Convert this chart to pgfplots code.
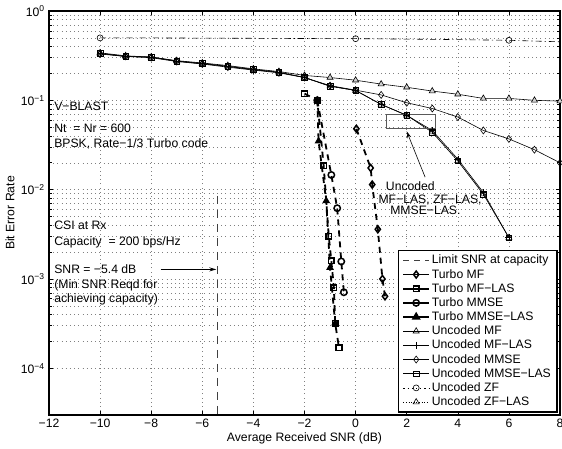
\documentclass[border=0pt]{standalone}
\usepackage{pgfplots}
\pgfplotsset{compat=1.18}
\usepackage{fontspec}
\setmainfont{Liberation Sans}
\usetikzlibrary{arrows.meta}

\newcommand\fs{\fontsize{12.2}{14}\selectfont}

\begin{document}
\fs
\begin{tikzpicture}
\begin{axis}[
  scale only axis, width=511pt, height=404pt,
  at={(0,0)}, anchor=south west,
  ymode=log,
  xmin=-12, xmax=8, ymin=3e-5, ymax=1,
  xtick={-12,-10,...,8},
  xticklabels={−12,−10,−8,−6,−4,−2,0,2,4,6,8},
  ytick={1e-4,1e-3,1e-2,1e-1,1},
  yticklabels={10\textsuperscript{−4},10\textsuperscript{−3},10\textsuperscript{−2},10\textsuperscript{−1},10\textsuperscript{0}},
  tick label style={font=\fs},
  label style={font=\fs},
  xlabel={Average Received SNR (dB)},
  ylabel={Bit Error Rate},
  every axis x label/.style={at={(axis description cs:0.5,0)}, anchor=center, yshift=-23pt},
  every axis y label/.style={at={(axis description cs:-0.0763,0.5)}, anchor=center, rotate=90},
  xmajorgrids, ymajorgrids, yminorgrids,
  major grid style={black!50, line width=0.5pt, dash pattern=on 0.6pt off 3.6pt},
  minor grid style={black!50, line width=0.5pt, dash pattern=on 0.6pt off 3.6pt},
  axis line style={line width=1.2pt},
  tick style={black, line width=0.6pt},
  legend cell align=left,
  legend style={at={(1,0)}, anchor=south east, xshift=-2.5pt, yshift=2.5pt,
    draw=black, line width=1.2pt, fill=white, font=\fs, row sep=-0.5pt, inner xsep=4pt, inner ysep=2.5pt},
  legend image code/.code={\draw[mark repeat=2,mark phase=2,#1] plot coordinates {(0cm,0cm) (0.45cm,0cm) (0.9cm,0cm)};},
]

% limit SNR at capacity
\addplot[forget plot, black!75, line width=1pt, dash pattern=on 8pt off 6pt] coordinates {(-5.4,8.5e-3) (-5.4,3e-5)};

% Uncoded ZF
\addplot[forget plot, black, line width=0.6pt, dash pattern=on 6pt off 3pt on 1.2pt off 3pt,
  mark=o, mark size=3pt, mark indices={1,6,9}, mark options={solid}]
  coordinates {(-10,0.50) (-8,0.50) (-6,0.497) (-4,0.495) (-2,0.492) (0,0.49) (2,0.485) (4,0.478) (6,0.47) (8,0.452)};

% Uncoded MF
\addplot[forget plot, black, line width=0.6pt, mark=triangle*, mark size=3.5pt, mark options={fill=gray!35}]
  coordinates {(-10,0.34) (-9,0.315) (-8,0.305) (-7,0.278) (-6,0.262) (-5,0.245) (-4,0.225) (-3,0.21)
  (-2,0.19) (-1,0.18) (0,0.168) (1,0.152) (2,0.14) (3,0.127) (4,0.117) (5,0.105) (6,0.105) (7,0.1) (8,0.098)};

% Uncoded MMSE
\addplot[forget plot, black, line width=0.6pt, mark=diamond, mark size=3.5pt]
  coordinates {(-10,0.33) (-9,0.31) (-8,0.30) (-7,0.272) (-6,0.255) (-5,0.235) (-4,0.218) (-3,0.203)
  (-2,0.18) (-1,0.146) (0,0.13) (1,0.115) (2,0.094) (3,0.081) (4,0.065) (5,0.046) (6,0.037) (7,0.028) (8,0.020)};

% Uncoded MF-LAS
\addplot[forget plot, black, line width=0.6pt, mark=+, mark size=3.5pt]
  coordinates {(-10,0.335) (-9,0.31) (-8,0.305) (-7,0.275) (-6,0.258) (-5,0.24) (-4,0.221) (-3,0.206)
  (-2,0.18) (-1,0.144) (0,0.129) (1,0.09) (2,0.068) (3,0.046) (4,0.022) (5,0.0093) (6,0.0029)};

% Uncoded MMSE-LAS
\addplot[forget plot, black, line width=0.6pt, mark=square, mark size=2.8pt]
  coordinates {(-10,0.335) (-9,0.31) (-8,0.305) (-7,0.275) (-6,0.258) (-5,0.24) (-4,0.221) (-3,0.206)
  (-2,0.18) (-1,0.144) (0,0.129) (1,0.09) (2,0.068) (3,0.044) (4,0.021) (5,0.0089) (6,0.0029)};

% Uncoded ZF-LAS
\addplot[forget plot, black, line width=0.6pt, dotted, mark=triangle, mark size=3.5pt, mark options={solid}]
  coordinates {(-10,0.335) (-9,0.31) (-8,0.305) (-7,0.275) (-6,0.258) (-5,0.24) (-4,0.221) (-3,0.206)
  (-2,0.18) (-1,0.144) (0,0.129) (1,0.09) (2,0.068) (3,0.044) (4,0.021) (5,0.0089) (6,0.0029)};

% Turbo MF
\addplot[forget plot, black, line width=1.8pt, dash pattern=on 6pt off 5pt,
  mark=diamond, mark size=3.5pt, mark options={solid, line width=1.5pt}]
  coordinates {(0.03,0.048) (0.59,0.0175) (0.65,0.0114) (0.87,0.0036) (1.05,0.0010) (1.15,0.00064)};

% Turbo MF-LAS
\addplot[forget plot, black, line width=1.8pt, dash pattern=on 6pt off 5pt,
  mark=square, mark size=2.8pt, mark options={solid, line width=1.5pt}]
  coordinates {(-2.0,0.119) (-1.5,0.100) (-1.25,0.0186) (-1.05,0.0030) (-0.95,0.0016) (-0.85,0.0008) (-0.8,0.00032) (-0.65,0.00017)};

% Turbo MMSE
\addplot[forget plot, black, line width=1.8pt, dash pattern=on 6pt off 5pt,
  mark=o, mark size=3.2pt, mark options={solid, line width=1.5pt}]
  coordinates {(-1.5,0.100) (-0.95,0.0146) (-0.72,0.0062) (-0.56,0.00157) (-0.46,0.00071)};

% Turbo MMSE-LAS
\addplot[forget plot, black, line width=1.8pt, dash pattern=on 6pt off 5pt,
  mark=triangle*, mark size=3.5pt, mark options={solid, line width=1pt, fill=black}]
  coordinates {(-1.5,0.100) (-1.45,0.035) (-1.15,0.0075) (-1.0,0.00134) (-0.8,0.00032)};

% legend
\addlegendimage{black!75, line width=1pt, dash pattern=on 6pt off 5pt}
\addlegendentry{Limit SNR at capacity}
\addlegendimage{black, line width=1.8pt, mark=diamond, mark size=3.5pt, mark options={line width=1.5pt}}
\addlegendentry{Turbo MF}
\addlegendimage{black, line width=1.8pt, mark=square, mark size=2.8pt, mark options={line width=1.5pt}}
\addlegendentry{Turbo MF−LAS}
\addlegendimage{black, line width=1.8pt, mark=o, mark size=3.2pt, mark options={line width=1.5pt}}
\addlegendentry{Turbo MMSE}
\addlegendimage{black, line width=1.8pt, mark=triangle*, mark size=3.5pt, mark options={fill=black}}
\addlegendentry{Turbo MMSE−LAS}
\addlegendimage{black, line width=0.6pt, mark=triangle, mark size=3.5pt}
\addlegendentry{Uncoded MF}
\addlegendimage{black, line width=0.6pt, mark=+, mark size=3.5pt}
\addlegendentry{Uncoded MF−LAS}
\addlegendimage{black, line width=0.6pt, mark=diamond, mark size=3.5pt}
\addlegendentry{Uncoded MMSE}
\addlegendimage{black, line width=0.6pt, mark=square, mark size=2.8pt}
\addlegendentry{Uncoded MMSE−LAS}
\addlegendimage{black, line width=0.6pt, dash pattern=on 1.2pt off 3pt, mark=o, mark size=3pt, mark options={solid}}
\addlegendentry{Uncoded ZF}
\addlegendimage{black, line width=0.6pt, dotted, mark=triangle, mark size=3.5pt, mark options={solid}}
\addlegendentry{Uncoded ZF−LAS}

% annotations
\node[anchor=base west, inner sep=0, font=\fs] at (axis cs:-11.8,0.0772) {V−BLAST};
\node[anchor=base west, inner sep=0, font=\fs] at (axis cs:-11.8,0.0440) {Nt \ = Nr = 600};
\node[anchor=base west, inner sep=0, font=\fs] at (axis cs:-11.8,0.0299) {BPSK, Rate−1/3 Turbo code};
\node[anchor=base west, inner sep=0, font=\fs] at (axis cs:-11.8,0.00356) {CSI at Rx};
\node[anchor=base west, inner sep=0, font=\fs] at (axis cs:-11.8,0.00235) {Capacity \ = 200 bps/Hz};
\node[anchor=base west, inner sep=0, font=\fs] at (axis cs:-11.8,0.00116) {SNR = −5.4 dB};
\node[anchor=base west, inner sep=0, font=\fs] at (axis cs:-11.8,0.000787) {(Min SNR Reqd for};
\node[anchor=base west, inner sep=0, font=\fs] at (axis cs:-11.8,0.000552) {achieving capacity)};
\draw[black, line width=1pt, -{Stealth[length=7pt, width=4pt]}] (axis cs:-7.63,0.00128) -- (axis cs:-5.45,0.00128);

\draw[black!65, line width=0.9pt] (axis cs:1.19,0.0692) rectangle (axis cs:3.14,0.049);
\draw[black, line width=0.6pt, -{Stealth[length=7pt, width=4pt]}] (axis cs:2.72,0.0138) -- (axis cs:2.0,0.045);
\node[anchor=base west, inner sep=0, font=\fs] at (axis cs:1.18,0.00975) {Uncoded};
\node[anchor=base west, inner sep=0, font=\fs] at (axis cs:0.89,0.00702) {MF−LAS, ZF−LAS,};
\node[anchor=base west, inner sep=0, font=\fs] at (axis cs:1.35,0.00533) {MMSE−LAS.};
\end{axis}
\pgfresetboundingbox
\path (-49pt,-33pt) rectangle (513pt,415pt);
\end{tikzpicture}
\end{document}
